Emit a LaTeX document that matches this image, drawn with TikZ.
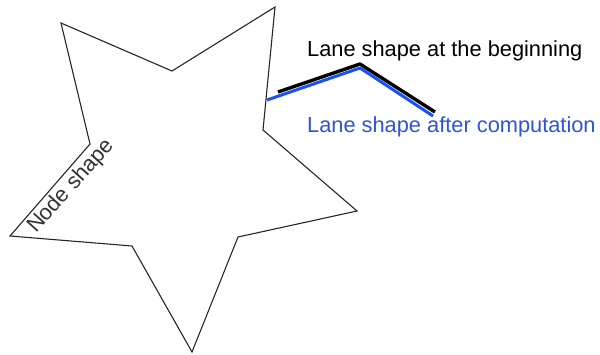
\documentclass[tikz,border=0pt]{standalone}
\usepackage{fontspec}
\setmainfont{Liberation Sans}
\definecolor{laneblue}{RGB}{25,80,250}
\definecolor{textblue}{RGB}{45,85,215}
\definecolor{textgray}{RGB}{50,50,50}
\begin{document}
\begin{tikzpicture}[x=1pt,y=-1pt,
  starline/.style={draw=black!85, line width=1.1pt, line join=miter},
  lanelabel/.style={anchor=base west, inner sep=0pt, font=\fontsize{21.8}{24}\selectfont},
  blackline/.style={draw=black, line width=3.4pt, line join=round},
  blueline/.style={draw=laneblue, line width=3pt, line join=round}]
\useasboundingbox (0,0) rectangle (600,354);
% star (node shape)
\coordinate (o1) at (61,23);
\coordinate (i1) at (172,71);
\coordinate (o2) at (275,7);
\coordinate (i2) at (263,130);
\coordinate (o3) at (357,211);
\coordinate (i3) at (238,237);
\coordinate (o4) at (192,352);
\coordinate (i4) at (132,246);
\coordinate (o5) at (10,236);
\coordinate (i5) at (90,144);
\draw[starline] (o1) -- (i1) -- (o2) -- (i2) -- (o3) -- (i3) -- (o4) -- (i4) -- (o5) -- (i5) -- cycle;
% lane shapes
\coordinate (b1) at (278,92);
\coordinate (b2) at (360,64);
\coordinate (b3) at (435,112);
\coordinate (c1) at (267,100);
\coordinate (c2) at (360,68);
\coordinate (c3) at (433,116);
\draw[blackline] (b1) -- (b2) -- (b3);
\draw[blueline] (c1) -- (c2) -- (c3);
% labels
\node[lanelabel, text=black] (lbeg) at (307,56) {Lane shape at the beginning};
\node[lanelabel, text=textblue] (lafter) at (307,132) {Lane shape after computation};
\node[lanelabel, text=textgray, rotate=48] (nshape) at (36,234) {Node shape};
\end{tikzpicture}
\end{document}
